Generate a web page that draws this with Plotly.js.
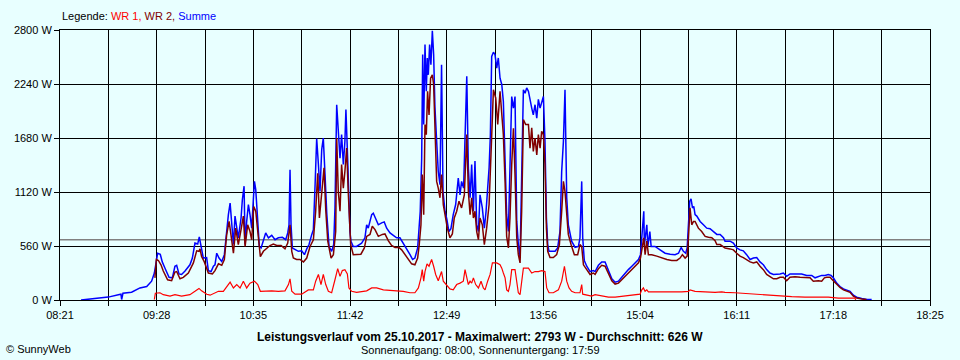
<!DOCTYPE html>
<html>
<head>
<meta charset="utf-8">
<script src="https://cdn.plot.ly/plotly-3.0.1.min.js"></script>
<style>
html,body{margin:0;padding:0;background:#E8FFFF;}
#chart{width:960px;height:360px;}
</style>
</head>
<body>
<div id="chart"></div>
<script>
// Time in minutes since midnight, power in W
const tSum = [515.6,523,528.8,534.5,541.5,543.3,543.8,544.7,550.7,556.5,561.2,564.6,566.5,568.1,568.8,570.6,572,573.9,576.7,579,580.8,582,583.6,585.4,587.8,591.2,592.9,594.7,596.6,597.7,598.9,600.5,602.8,
604,605.9,607.5,608.6,609.8,611.4,613.3,615.1,616.3,617.9,619.1,620.2,621.4,622.5,623.7,624.8,626.7,627.6,628.8,629.5,630.6,631.8,632.9,634.1,635.3,636,636.9,638.3,639.4,640.6,642.2,643.8,645.7,648,650.3,652.6,655.4,657.7,659.1,660,660.7,661.4,662.3,664.2,666.5,668.8,670.7,672.3,673.9,675.7,676.9,678.1,679.2,680.4,681.5,682.7,683.8,685,686.2,687.8,689.6,691,691.9,
693.1,694.2,695.4,696.5,697.7,698.8,699.5,700.7,701.6,702.3,703,704.6,706.9,709.3,710.4,712.7,713.9,715,716.2,717.4,718.5,720.1,722,724.3,726.1,727.8,730.1,732.4,734.7,737,739.3,741.7,744,745.8,747.4,749.3,750.2,751.1,752.1,752.8,753.5,754.4,755.3,756,756.7,757.6,758.5,759.5,760.4,761.3,762.5,763.6,764.8,765.9,766.9,768.3,769.6,771,772.4,774,775.7,777.5,778.7,779.8,781.2,
782.2,783.4,784.5,785.7,786.8,788,789.1,790.3,791.5,792.6,794.2,795.6,796.8,797.9,798.9,799.8,800.7,801.9,803,804.2,805.3,806.5,807.7,808.8,810,811.1,812.3,813.4,814.6,815.8,816.9,818.1,819.2,820.4,821.5,822.7,823.9,825,826.2,827.3,828.5,829.6,830.8,832,833.1,834.3,835.4,836.6,837.7,838.7,839.6,840.5,842.4,844.7,846.5,848.1,849.3,850.5,851.6,852.8,853.9,855.1,856.2,858.6,860.9,862,863.2,863.9,865,866.7,869,871.3,
872.5,874.8,877.1,879.4,881.8,884.1,886.4,888.7,891,893.3,895.6,898,900.3,902.6,904,904.9,905.6,906.3,906.7,907.7,908.4,909.1,910.5,911.4,914.1,917.6,921.1,924.6,928,930.4,932.2,933.8,935.4,936.4,937.3,938.2,939.1,940.1,941,941.9,943.1,945.4,947.7,950,952.3,954.6,957,959.3,961.6,
962.7,966.2,968.5,970.8,973.1,975.4,977.7,980.1,982.4,984.7,987,989.3,991.6,993.9,996.3,998.6,1000.9,1003.2,1005.5,1007.8,1010.1,1012.5,1015.9,1019.4,1022.9,1025.2,1027.5,1029.8,1032.1,1034.4,1036.3,1037.9,1040.2,1042.5,1044.9,1047.2,1049.5,1051.8,1054.1,1057.6,1061,1064.5];
const wSum = [0,10,20,30,55,60,5,70,80,125,140,195,280,420,485,475,395,330,235,230,350,360,270,265,300,365,435,590,580,655,555,435,440,
305,295,350,365,485,435,400,470,675,885,1005,780,575,870,745,645,850,1040,1180,575,815,990,885,745,1060,1230,1145,850,555,540,610,695,645,670,625,645,650,625,695,780,1350,780,540,520,505,510,470,530,575,675,730,1195,1675,1405,1125,1560,1680,1300,900,555,505,575,955,
2025,1715,1470,1715,1405,1645,1975,1470,850,710,610,555,555,575,590,645,780,745,815,885,900,850,780,800,810,745,695,670,645,645,590,520,470,420,435,540,710,920,1470,2545,1820,2650,2165,2510,2335,2650,2440,2793,2545,2000,1645,1335,1195,2440,1125,920,835,710,740,885,990,1265,1090,1230,1160,
1715,2320,1370,1060,1405,920,1440,780,710,1090,955,745,920,1160,1370,1715,2525,2570,2545,2405,2510,2300,2235,2060,1370,885,710,1370,2110,1990,2110,815,575,435,1335,2180,2145,2200,2165,2060,1990,1920,2025,1885,2080,1990,2060,2110,1645,850,575,505,505,505,540,710,1335,1645,2180,1060,780,695,610,545,555,645,1230,645,410,350,295,305,
295,360,395,395,315,220,185,195,235,280,315,350,385,420,470,645,815,920,575,680,780,555,710,555,555,520,485,475,470,485,545,505,485,540,765,1025,1050,955,970,885,870,815,780,745,740,710,680,680,645,
610,610,590,540,520,510,470,420,435,440,395,365,315,280,265,265,270,280,245,270,270,265,270,255,255,230,245,255,255,265,255,230,175,140,115,105,90,50,30,15,5,5];

const tWR2 = [566.9,567.9,569.3,571.1,572.7,575.7,578.5,580.8,582,584.3,586.6,590.1,593.6,595.9,597.5,598.2,599.3,601.2,604,
606.8,608.6,611,613.3,615.1,616.7,618.4,619.7,621.4,623,624.8,626.7,628.3,629.5,631.3,632.9,634.1,635.5,636.9,638.3,640.1,642.2,644.5,646.8,649.1,651.5,654.5,657.2,659.1,660.7,661.9,663,665.3,667.6,670,672.3,674.6,676.9,678.5,679.9,681.1,682.7,684.3,685.5,686.9,689.2,690.8,692.4,
693.1,694.2,695.4,696.5,697.7,698.8,700,701.1,701.9,702.8,704.6,706.9,709.9,712.3,713.9,716.2,717.8,719.7,722,724.8,726.6,728.9,731.2,733.6,736.3,738.2,740.5,742.8,745.1,747.4,749.3,750.4,751.6,752.5,753.5,754.4,755.3,756.2,757.2,758.3,759.5,760.4,761.3,762.5,763.6,764.8,765.9,767.1,768.3,769.9,771.7,773.4,774.7,776.4,778,779.8,781.7,
782.2,783.4,784.5,785.7,786.8,788,789.1,790.3,791.5,792.6,794.2,795.6,797.2,798.9,800.2,801.9,803.5,804.9,806.5,807.7,808.8,810,811.1,812.3,813.4,814.6,815.8,816.9,818.1,819.2,820.4,821.5,822.7,824.3,826.2,827.3,828.5,829.6,830.8,832,833.1,834.3,835.4,836.6,837.7,838.7,839.6,841.2,843.5,845.8,847.7,849.3,850.5,851.6,852.8,853.9,855.8,858.1,860.4,862,863.2,864.4,866.7,869,871.3,
872.5,874.8,877.1,879.4,881.8,884.1,886.4,888.7,891,893.3,895.6,898,900.3,902.6,904,905.4,906.3,907.2,908.4,909.5,911.8,915.3,918.8,922.3,925.7,929.2,931.5,933.1,935,936.4,937.3,938.4,939.6,940.8,941.9,944.2,946.5,948.9,951.2,953.5,955.8,957,959.3,961.6,
962.7,966.2,968.5,970.8,973.1,975.4,977.7,980.1,982.4,984.7,987,989.3,991.6,993.9,996.3,998.6,1000.9,1003.2,1005.5,1007.8,1011.3,1014.8,1018.2,1021.7,1024,1027.5,1029.8,1031.7,1033.3,1035.6,1037.2,1040.2,1042.5,1044.9,1047.2,1049.5,1051.8,1054.1,1057.6,1061];
const wWR2 = [230,420,410,365,300,210,200,290,295,220,235,280,385,510,505,530,450,395,280,
270,305,375,360,420,675,815,675,485,745,575,730,870,555,780,710,625,970,920,710,450,505,540,565,580,565,565,530,590,780,505,435,420,420,395,435,555,625,920,1315,850,1125,1370,935,610,435,470,710,
1680,1125,920,1405,1160,1335,1575,1125,780,575,470,470,475,540,660,680,765,730,660,680,685,615,565,545,545,520,470,420,375,365,435,575,780,1300,885,1820,1715,2165,1920,2300,2335,2235,1715,1230,1160,1060,1300,990,885,745,645,685,850,920,1025,955,1090,
1300,1715,1125,885,1060,850,920,710,625,850,780,575,745,990,1505,2180,2095,1820,2165,1920,1715,1230,660,540,850,1405,1780,1300,645,470,385,920,1870,1820,1820,1575,1785,1540,1680,1505,1715,1575,1750,1715,1405,745,505,440,440,470,575,920,1230,1125,850,680,575,470,470,575,555,365,315,265,280,
265,325,360,350,280,200,165,175,210,245,280,315,350,385,435,555,645,470,610,470,470,455,435,420,410,410,435,470,435,455,645,955,780,815,815,745,710,660,650,645,615,575,575,555,
540,530,520,485,455,440,420,395,385,395,350,315,265,245,220,220,235,235,200,235,240,235,235,230,195,200,195,230,235,235,210,160,130,105,95,80,40,20,10,5];

const tWR1 = [566.5,567.2,570.4,572.7,577.4,580.8,585.4,591.2,594.7,597.5,599.3,601.6,
602.9,605.2,608.6,611,614.4,616.7,619.1,621.4,623.7,626,628.3,630.6,632.9,636,638.3,640.1,643.4,648,652.6,657.2,659.6,660.7,661.9,664.2,668.8,673.4,676.9,678.5,680.4,682.2,683.8,685.5,687.3,689.6,
691.9,693.8,695.4,697,698.8,700.5,701.6,703.5,706.9,710.4,713.9,717.4,720.8,725.5,730.1,734.7,739.3,744,747.4,749.8,751.6,752.5,753.5,754.4,755.8,757.2,759,760.4,761.8,763.6,765.9,767.1,769.4,771.7,774,776.4,778.7,781,
782.2,783.4,784.5,785.7,786.8,788,789.6,791.5,793.3,794.9,796.1,797.9,799.6,801.2,804.2,806.5,807.7,808.8,810,811.1,812.3,813.4,814.6,816.9,818.1,819.2,820.4,821.5,822.7,826.2,828.5,830.8,833.1,835.4,837.7,838.9,840.5,843.5,847,849.3,851.2,852.8,854.4,856.2,858.6,862,863.2,863.9,866.7,870.1,
872.5,877.1,881.8,886.4,891,895.6,900.3,903.7,904.9,906,907.2,908.4,909.5,914.1,918.8,923.4,928,932.7,937.3,938.4,941.9,946.5,951.2,955.8,960.4,
962.7,969.6,974.3,978.9,985.8,992.8,999.7,1009,1018.2,1027.5,1034.4,1041.4,1052.9,1053.4];
const wWR1 = [5,70,75,55,40,55,40,55,90,120,95,70,
60,50,75,90,90,140,185,125,160,125,195,125,175,195,160,90,95,95,90,95,160,220,90,60,60,105,105,195,265,160,265,160,90,75,
210,325,245,305,315,270,125,90,80,90,95,125,125,105,100,90,90,75,75,125,230,315,195,295,375,350,420,350,265,200,295,195,160,115,105,160,175,195,
315,230,160,195,175,230,160,125,195,125,105,195,265,385,385,365,330,280,230,105,90,160,315,315,160,75,55,195,330,330,280,295,295,305,295,125,75,75,105,195,350,195,125,90,75,75,160,60,50,40,
55,40,30,30,40,50,55,60,105,125,90,105,85,85,80,80,85,85,90,105,90,85,80,80,85,
80,75,70,60,55,45,40,35,30,30,30,20,20,0];

const avgW = 626;
const tickLabels = ["08:21","09:28","10:35","11:42","12:49","13:56","15:04","16:11","17:18","18:25"];
const yTicks = [0,560,1120,1680,2240,2800];

const xStart = 501, xEnd = 1105;
const tickvals = [], ticktext = [];
for (let i = 0; i <= 18; i++) {
  tickvals.push(xStart + i * (xEnd - xStart) / 18);
  ticktext.push(i % 2 === 0 ? tickLabels[i / 2] : "");
}

const FONT = "Liberation Sans, Arial, sans-serif";
const traces = [
  {x: tSum, y: wSum, type: "scatter", mode: "lines", name: "Summe", line: {color: "#0000FF", width: 1.5}},
  {x: tWR2, y: wWR2, type: "scatter", mode: "lines", name: "WR 2", line: {color: "#800000", width: 1.5}},
  {x: tWR1, y: wWR1, type: "scatter", mode: "lines", name: "WR 1", line: {color: "#FF0000", width: 1.2}}
];

const layout = {
  width: 960, height: 360,
  paper_bgcolor: "#E8FFFF", plot_bgcolor: "#E8FFFF",
  margin: {l: 60, r: 30, t: 30, b: 60},
  showlegend: false,
  font: {family: FONT, size: 11, color: "#000"},
  xaxis: {
    range: [xStart, xEnd], tickmode: "array", tickvals: tickvals, ticktext: ticktext,
    showgrid: true, gridcolor: "#000", gridwidth: 1,
    showline: true, linecolor: "#000", linewidth: 1, mirror: true,
    ticks: "outside", ticklen: 5, tickcolor: "#000", zeroline: false,
    tickfont: {family: FONT, size: 11, color: "#000"}
  },
  yaxis: {
    range: [0, 2800], tickmode: "array", tickvals: yTicks, ticktext: yTicks.map(v => v + " W"),
    showgrid: true, gridcolor: "#000", gridwidth: 1,
    showline: true, linecolor: "#000", linewidth: 1, mirror: true,
    ticks: "outside", ticklen: 5, tickcolor: "#000", zeroline: false,
    tickfont: {family: FONT, size: 11, color: "#000"}
  },
  shapes: [
    {type: "line", xref: "paper", x0: 0, x1: 1, yref: "y", y0: avgW, y1: avgW,
     line: {color: "#808080", width: 1.5}, layer: "below"}
  ],
  annotations: [
    {xref: "paper", yref: "paper", x: 0, y: 1.052, xanchor: "left", yanchor: "middle", showarrow: false,
     text: 'Legende: <span style="color:#FF0000">WR 1, </span><span style="color:#800000">WR 2, </span><span style="color:#0000FF">Summe</span>',
     font: {family: FONT, size: 11, color: "#000"}},
    {xref: "paper", yref: "paper", x: 0.4828, y: -0.137, xanchor: "center", yanchor: "middle", showarrow: false,
     text: "<b>Leistungsverlauf vom 25.10.2017 - Maximalwert: 2793 W - Durchschnitt: 626 W</b>",
     font: {family: FONT, size: 12, color: "#000"}},
    {xref: "paper", yref: "paper", x: 0.4828, y: -0.186, xanchor: "center", yanchor: "middle", showarrow: false,
     text: "Sonnenaufgang: 08:00, Sonnenuntergang: 17:59",
     font: {family: FONT, size: 11, color: "#000"}},
    {xref: "paper", yref: "paper", x: -0.064, y: -0.181, xanchor: "left", yanchor: "middle", showarrow: false,
     text: "© SunnyWeb",
     font: {family: FONT, size: 11, color: "#000"}}
  ]
};

Plotly.newPlot("chart", traces, layout, {staticPlot: true, displayModeBar: false});
</script>
</body>
</html>
